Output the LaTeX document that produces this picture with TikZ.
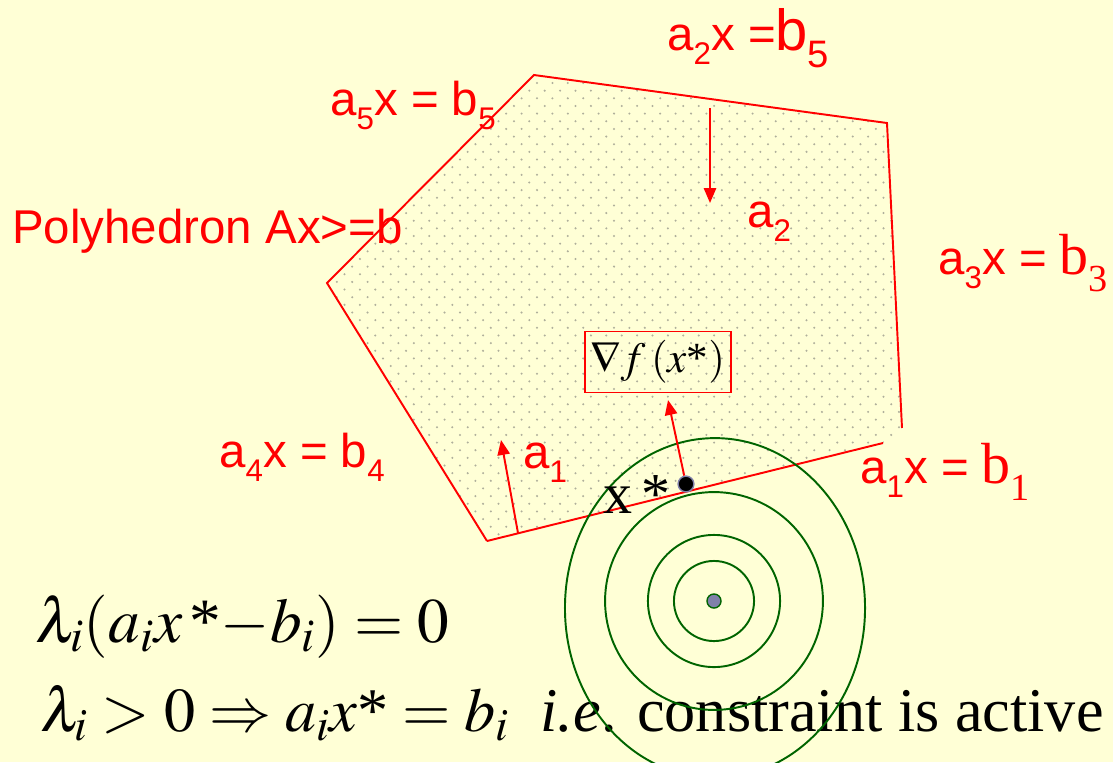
\documentclass[tikz,border=0pt]{standalone}
\usepackage{mathptmx}
\usepackage{fontspec}
\setmainfont{Liberation Serif}
\newfontfamily\sansf{Liberation Sans}
\usepackage{graphicx}
\usetikzlibrary{arrows.meta}

\definecolor{slidebg}{RGB}{255,255,214}
\definecolor{dotgray}{RGB}{175,175,155}
\definecolor{levelgreen}{RGB}{0,100,0}
\definecolor{ptblue}{RGB}{128,128,170}

\newcommand{\lsub}[1]{\raisebox{-0.3em}{\scalebox{0.66}{#1}}}

\begin{document}
\begin{tikzpicture}[
    x=0.02cm, y=-0.02cm,
    >={Triangle[length=8.5pt,width=7pt]},
    edge/.style={red, line width=1.1pt},
    normal/.style={->, red, line width=1.1pt},
    lbl/.style={text=red, font=\sansf\fontsize{27}{30}\selectfont, inner sep=0pt, anchor=base west},
    level/.style={draw=levelgreen, line width=1.1pt},
    formula/.style={font=\fontsize{36}{40}\selectfont, inner sep=0pt, anchor=base west}
]
    \useasboundingbox (0,0) rectangle (1113,762);
    \fill[slidebg] (0,0) rectangle (1113,762);

    % Polyhedron corners
    \coordinate (v1) at (487,541);
    \coordinate (v2) at (327,283);
    \coordinate (v3) at (534,75);
    \coordinate (v4) at (887,123);
    \coordinate (v5) at (902,428);
    \coordinate (v6) at (883,443);

    % Dotted interior
    \begin{scope}
        \clip (v1) -- (v2) -- (v3) -- (v4) -- (v5) -- (v6) -- cycle;
        \foreach \r in {0,...,62} {
            \foreach \c in {0,...,38} {
                \fill[dotgray] ({321.4+15.4*\c+7.7*mod(\r,2)}, {67.7+7.65*\r}) circle (0.65pt);
            }
        }
    \end{scope}

    % Constraint labels
    \node[lbl] (l2) at (667,50) {a\lsub{2}x ={\fontsize{33}{36}\selectfont b\lsub{5}}};
    \node[lbl] (l5) at (330,115) {a\lsub{5}x = b\lsub{5}};
    \node[lbl] (poly) at (12,243) {Polyhedron Ax>=b};
    \node[lbl] (n2) at (747,227) {a\lsub{2}};
    \node[lbl] (l3) at (938,274) {a\lsub{3}x = {\rmfamily\fontsize{33}{36}\selectfont b\lsub{3}}};
    \node[lbl] (l4) at (219,467) {a\lsub{4}x = b\lsub{4}};
    \node[lbl] (n1) at (523,468) {a\lsub{1}};
    \node[lbl] (l1) at (860,483) {a\lsub{1}x = {\rmfamily\fontsize{33}{36}\selectfont b\lsub{1}}};

    % Polyhedron edges
    \draw[edge] (v1) -- (v2) -- (v3) -- (v4) -- (v5);
    \draw[edge] (v1) -- (v6);

    % Normals
    \coordinate (a2s) at (710,108);
    \coordinate (a2e) at (710,203);
    \draw[normal] (a2s) -- (a2e);
    \coordinate (a1s) at (518,533);
    \coordinate (a1e) at (501,440);
    \draw[normal] (a1s) -- (a1e);

    % Formulas
    \node[formula] (kkt) at (35,642) {$\lambda_i(a_i x\,\mbox{*}{-}b_i) = 0$};
    \node[formula, font=\fontsize{35.4}{40}\selectfont] (act) at (40,731) {$\lambda_i > 0 \Rightarrow a_i x\mbox{*} = b_i$\ \ \textit{i.e}. constraint is active};

    % Level sets
    \coordinate (opt) at (714,601);
    \draw[level] (opt) circle (22.8pt);
    \draw[level] (opt) circle (37.6pt);
    \draw[level] (opt) circle (62pt);
    \draw[level] (715,608) ellipse [x radius=85.4pt, y radius=96.7pt];
    \node[circle, fill=ptblue, draw=levelgreen, line width=0.8pt, minimum size=8pt, inner sep=0pt] (center) at (opt) {};

    % Optimum and gradient
    \node[circle, fill=black, draw=ptblue, line width=0.8pt, minimum size=9pt, inner sep=0pt] (xstar) at (686,484) {};
    \node[font=\fontsize{33}{36}\selectfont, inner sep=0pt, anchor=base west] (xlbl) at (603,513) {x\,*};
    \node[draw=red, line width=0.7pt, minimum width=82pt, minimum height=34.5pt, font=\fontsize{24.5}{26}\selectfont] (grad) at (658,362) {$\nabla f\,(x\mbox{*})$};
    \coordinate (gtip) at (668,400);
    \draw[normal] (xstar) -- (gtip);

\end{tikzpicture}
\end{document}
